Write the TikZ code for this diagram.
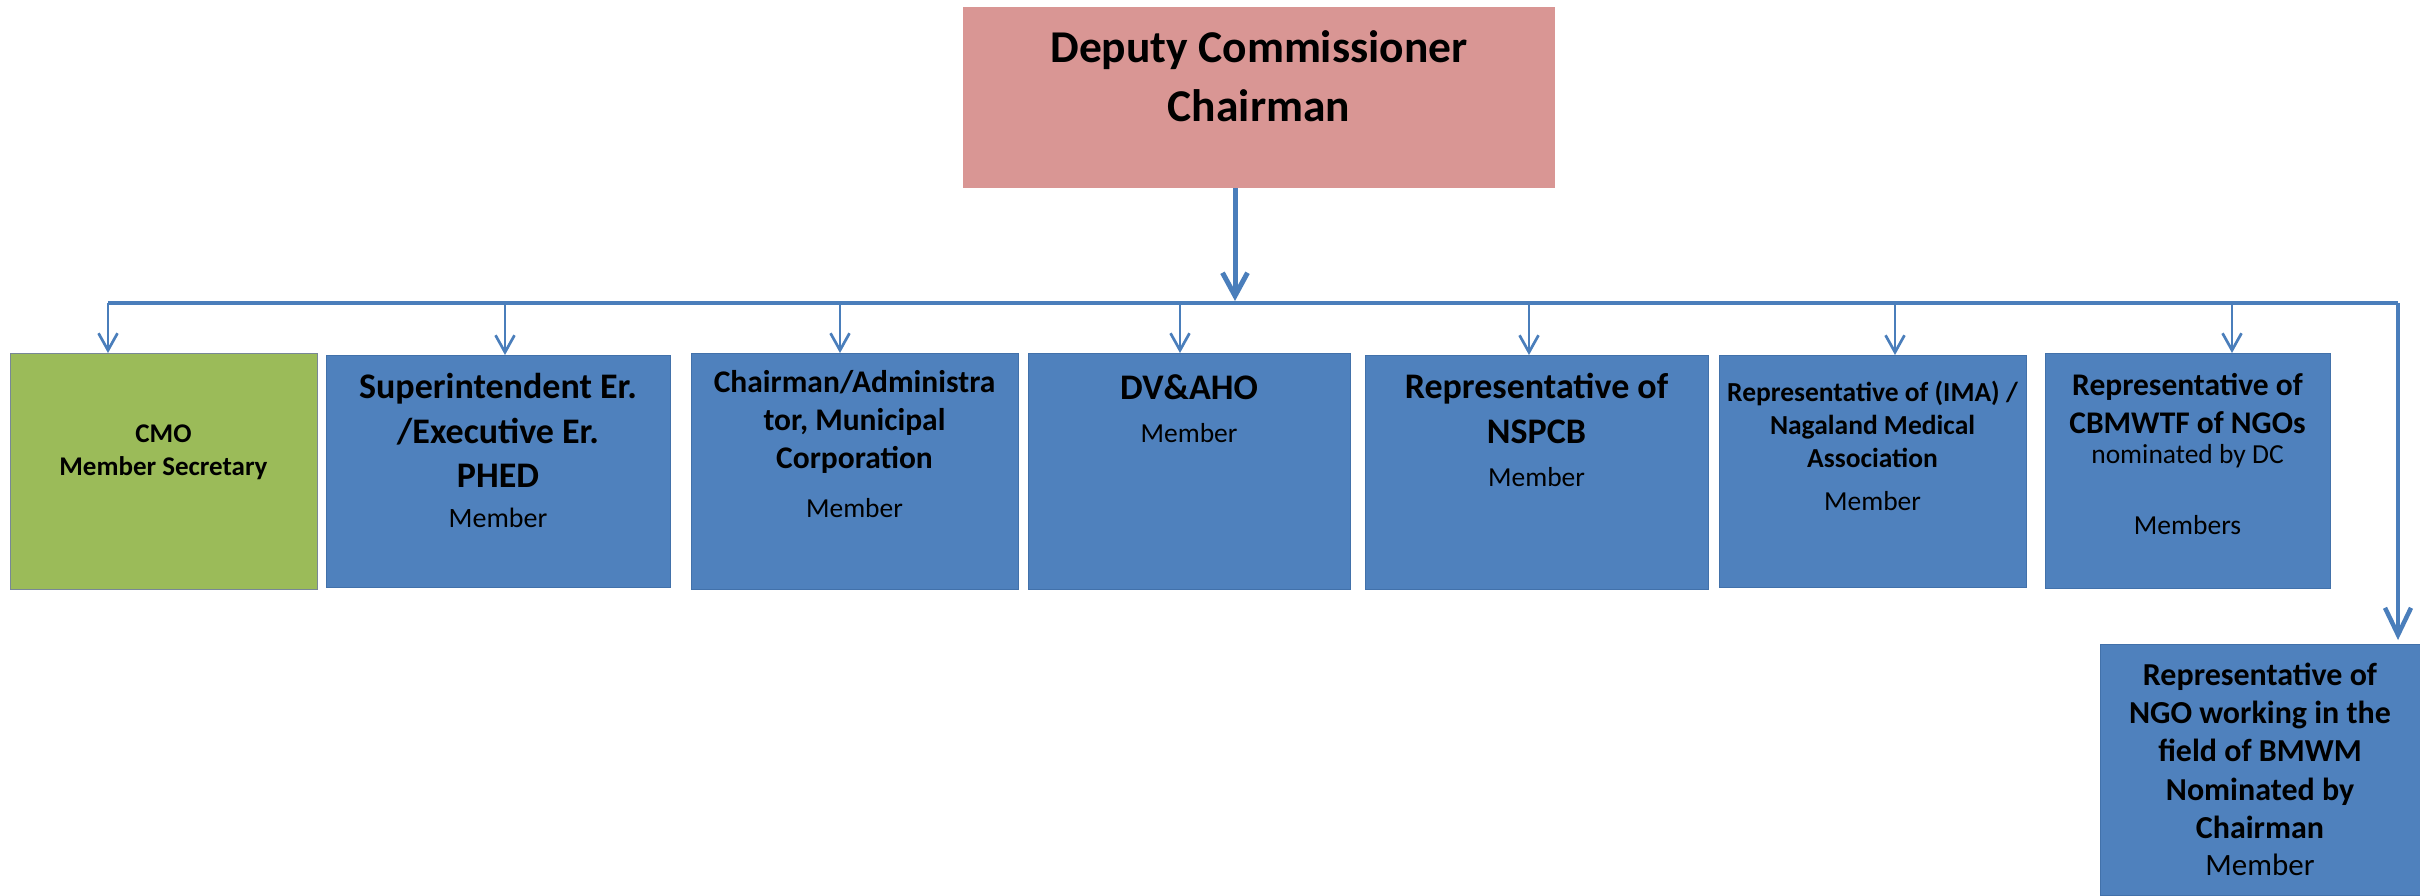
\documentclass[tikz,border=0pt]{standalone}
\usepackage{fontspec}
\setmainfont{Carlito}
\usetikzlibrary{arrows.meta, positioning}

\definecolor{chairpink}{RGB}{217,150,148}
\definecolor{memblue}{RGB}{79,129,189}
\definecolor{memedge}{RGB}{66,113,170}
\definecolor{secgreen}{RGB}{155,187,89}
\definecolor{secedge}{RGB}{120,135,150}
\definecolor{linkblue}{RGB}{74,126,187}

\newcommand{\fsz}[2]{\fontsize{#1}{#2}\selectfont}

\begin{document}
\begin{tikzpicture}[x=1pt, y=-1pt]

\tikzset{
  box/.style={rectangle, anchor=north west, inner sep=0pt, outer sep=0pt, fill=memblue, draw=memedge, line width=0.8pt},
  txt/.style={align=center, inner sep=0pt, anchor=north},
  memline/.style={draw=linkblue, line width=4pt},
  sub/.style={draw=linkblue, line width=2.7pt, -{Straight Barb[length=17pt, width=19pt]}},
  mainarrow/.style={draw=linkblue, line width=5pt, -{Straight Barb[length=23pt, width=25pt]}, shorten >=2pt},
  ngoarrow/.style={draw=linkblue, line width=4.5pt, -{Straight Barb[length=27pt, width=26pt]}, shorten >=4pt}
}

\useasboundingbox (0,0) rectangle (2420,895);

% --- Kaesten ---
\node[box, fill=chairpink, draw=none, minimum width=592pt, minimum height=181pt] (dc) at (963,7) {};
\node[box, fill=secgreen, draw=secedge, minimum width=307pt, minimum height=236pt] (cmo) at (10,353) {};
\node[box, minimum width=344pt, minimum height=232pt] (se) at (326,355) {};
\node[box, minimum width=327pt, minimum height=236pt] (ca) at (691,353) {};
\node[box, minimum width=322pt, minimum height=236pt] (dv) at (1028,353) {};
\node[box, minimum width=343pt, minimum height=234pt] (ns) at (1365,355) {};
\node[box, minimum width=307pt, minimum height=232pt] (ima) at (1719,355) {};
\node[box, minimum width=285pt, minimum height=235pt] (cb) at (2045,353) {};
\node[box, minimum width=320pt, minimum height=251pt] (ngo) at (2100,644) {};

% --- Texte ---
\node[txt, font=\fsz{45.5}{59}\bfseries, below=13.7pt of dc.north] (dctext) {\strut Deputy Commissioner\\Chairman};
\node[txt, font=\fsz{27}{33}\bfseries, below=66pt of cmo.north] (cmotext) {\strut CMO\\Member Secretary};
\node[txt, font=\fsz{36}{44.5}\bfseries, below=12.5pt of se.north] (setext) {\strut Superintendent Er.\\/Executive Er.\\PHED\\[-5pt]{\mdseries\fsz{28}{34}Member}};
\node[txt, font=\fsz{31.5}{38}\bfseries, below=12.4pt of ca.north] (catext) {\strut Chairman/Administra\\tor, Municipal\\Corporation\\[11pt]{\mdseries\fsz{27.5}{34}Member}};
\node[txt, font=\fsz{36}{45}\bfseries, below=14.5pt of dv.north] (dvtext) {\strut DV\&AHO\\[-2pt]{\mdseries\fsz{27.5}{34}Member}};
\node[txt, font=\fsz{36}{45}\bfseries, below=11.5pt of ns.north] (nstext) {\strut Representative of\\NSPCB\\[-2pt]{\mdseries\fsz{27.5}{34}Member}};
\node[txt, font=\fsz{27.5}{33}\bfseries, below=22.9pt of ima.north] (imatext) {\strut Representative of (IMA) /\\Nagaland Medical\\Association\\[10pt]{\mdseries\fsz{27.5}{34}Member}};
\node[txt, font=\fsz{31.5}{38}\bfseries, below=15.4pt of cb.north] (cbtext) {\strut Representative of\\CBMWTF of NGOs\\[-8pt]{\mdseries\fsz{27.5}{34}nominated by DC}\\[33pt]{\mdseries\fsz{27.5}{34}Members}};
\node[txt, font=\fsz{32}{38.3}\bfseries, below=14.2pt of ngo.north] (ngotext) {\strut Representative of\\NGO working in the\\field of BMWM\\Nominated by\\Chairman\\[-1pt]{\mdseries\fsz{31}{37}Member}};

% --- Verbindungen ---
\coordinate (busL) at (108,303);
\coordinate (busR) at (2398,303);

\draw[mainarrow] ([xshift=-24pt]dc.south) -- ([xshift=-24pt]dc.south |- busL);
\draw[memline] (busL) -- (busR);
\draw[ngoarrow] (busR) -- (busR |- ngo.north);

\draw[sub] (busL) -- (busL |- cmo.north);
\draw[sub] ([xshift=7pt]se.north |- busL) -- ([xshift=7pt]se.north);
\draw[sub] ([xshift=-14.5pt]ca.north |- busL) -- ([xshift=-14.5pt]ca.north);
\draw[sub] ([xshift=-9pt]dv.north |- busL) -- ([xshift=-9pt]dv.north);
\draw[sub] ([xshift=-7.5pt]ns.north |- busL) -- ([xshift=-7.5pt]ns.north);
\draw[sub] ([xshift=22.5pt]ima.north |- busL) -- ([xshift=22.5pt]ima.north);
\draw[sub] ([xshift=44.5pt]cb.north |- busL) -- ([xshift=44.5pt]cb.north);

\end{tikzpicture}
\end{document}
